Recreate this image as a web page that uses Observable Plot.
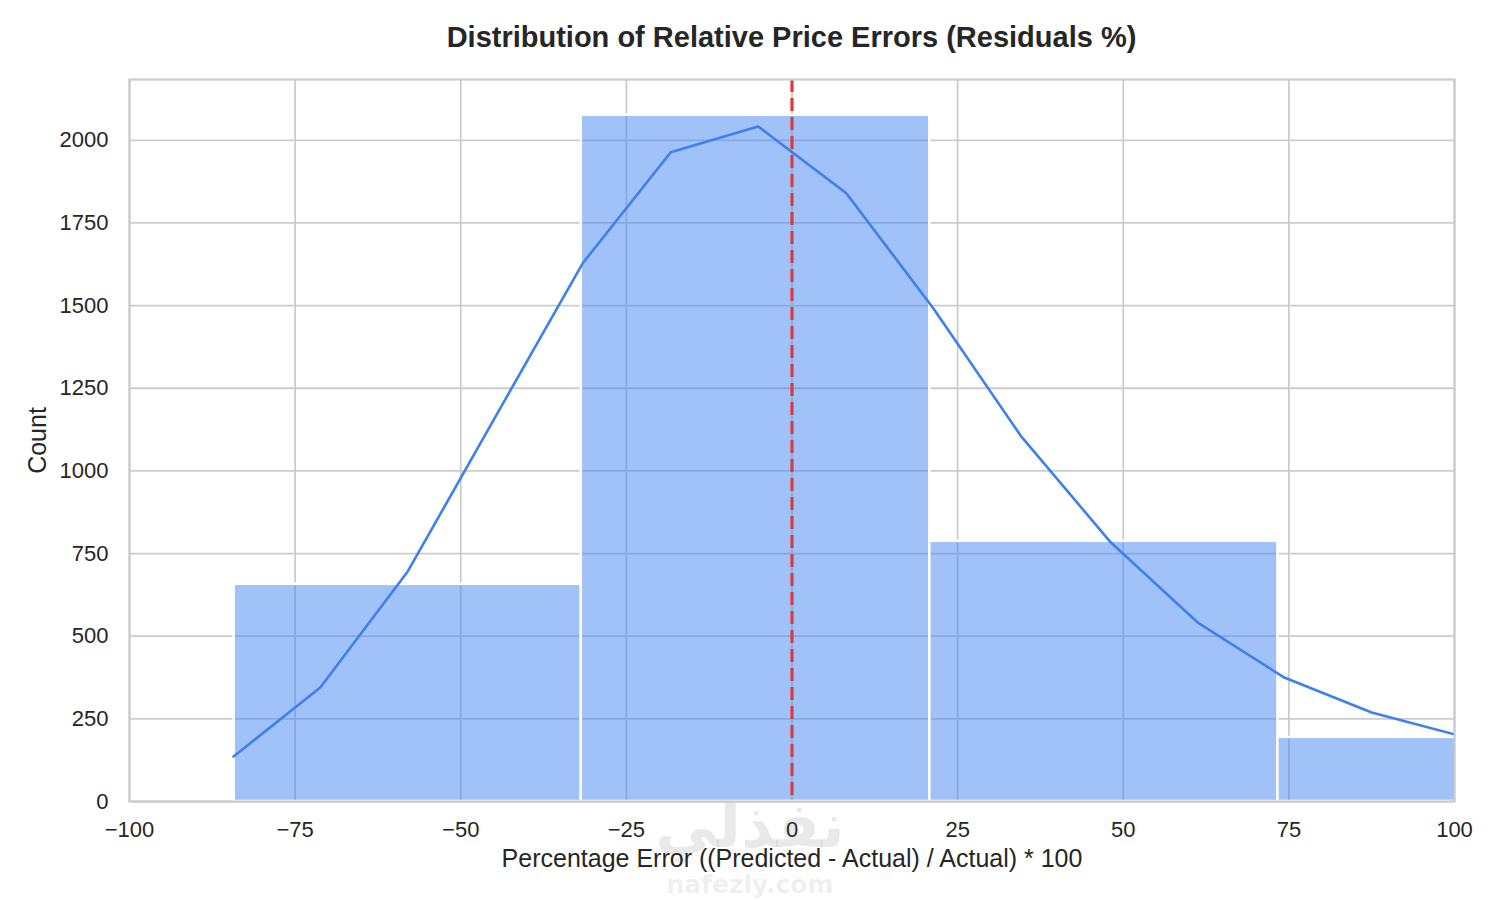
<!DOCTYPE html>
<html><head><meta charset="utf-8">
<script src="https://cdn.jsdelivr.net/npm/d3@7"></script>
<script src="https://cdn.jsdelivr.net/npm/@observablehq/plot@0.6"></script>
<style>
body{margin:0;background:#fff;font-family:"Liberation Sans",Arial,sans-serif;}
#wrap{position:relative;width:1500px;height:900px;overflow:hidden;background:#fff;}
#title{position:absolute;left:129px;width:1325px;top:22px;height:30px;line-height:30px;font-size:29px;font-weight:bold;text-align:center;color:#262626;}
#chart{position:absolute;left:0;top:60px;z-index:2;}
#wm1{position:absolute;left:600px;width:300px;top:794px;height:64px;line-height:64px;text-align:center;font-family:"DejaVu Sans",sans-serif;font-weight:bold;font-size:62px;color:rgba(0,0,0,0.085);z-index:1;}
#wm2{position:absolute;left:600px;width:300px;top:872px;height:26px;line-height:26px;text-align:center;font-family:"DejaVu Sans",sans-serif;font-weight:bold;font-size:25px;color:rgba(0,0,0,0.085);z-index:1;}
</style></head>
<body><div id="wrap"><div id="title">Distribution of Relative Price Errors (Residuals %)</div><div id="wm1">نفذلي</div><div id="wm2">nafezly.com</div><div id="chart"></div></div>
<script>
const binEdges = [-84.2, -31.8, 20.8, 73.35, 125.9];
const binCounts = [657, 2076, 787, 194];
const kdeX = [-84.3, -71.2, -58.0, -44.9, -31.6, -18.3, -5.1, 8.2, 21.4, 34.5, 48.1, 61.2, 74.3, 87.5, 100.0];
const kdeY = [136, 345, 696, 1159, 1628, 1964, 2042, 1840, 1490, 1107, 784, 542, 375, 269, 203];
const xTicks = [-100, -75, -50, -25, 0, 25, 50, 75, 100];
const yTicks = [0, 250, 500, 750, 1000, 1250, 1500, 1750, 2000];
const zeroLine = [0];
const titleText = "Distribution of Relative Price Errors (Residuals %)";
const xLabel = "Percentage Error ((Predicted - Actual) / Actual) * 100";
const yLabel = "Count";

const bins = binCounts.map((c, i) => ({x1: binEdges[i], x2: binEdges[i + 1], count: c}));
const kde = kdeX.map((x, i) => ({x, y: kdeY[i]}));
const fmt = d3.format("d");

const chart = Plot.plot({
  width: 1500,
  height: 840,
  marginLeft: 129,
  marginRight: 46,
  marginTop: 19,
  marginBottom: 99,
  style: {fontFamily: "'Liberation Sans', Arial, sans-serif", fontSize: "22px", color: "#262626", background: "transparent", overflow: "visible"},
  x: {domain: [-100, 100], ticks: xTicks, tickFormat: fmt},
  y: {domain: [0, 2184], ticks: yTicks, tickFormat: fmt},
  marks: [
    Plot.frame({fill: "white", stroke: "none"}),
    Plot.gridX(xTicks, {stroke: "#cccccc", strokeOpacity: 1, strokeWidth: 1.8}),
    Plot.gridY(yTicks, {stroke: "#cccccc", strokeOpacity: 1, strokeWidth: 1.8}),
    Plot.rectY(bins, {x1: "x1", x2: "x2", y1: 0, y2: "count", fill: "#4285F4", fillOpacity: 0.5, stroke: "white", strokeWidth: 2.5, clip: true}),
    Plot.line(kde, {x: "x", y: "y", stroke: "#3d80ee", strokeWidth: 2.6, clip: true}),
    Plot.ruleX(zeroLine, {stroke: "#dd3b3b", strokeWidth: 3.2, strokeDasharray: "13,6"}),
    Plot.frame({stroke: "#cccccc", strokeWidth: 2.2}),
    Plot.axisX(xTicks, {tickSize: 0, tickPadding: 20, tickFormat: fmt, label: null, fontSize: 22}),
    Plot.axisY(yTicks, {tickSize: 0, tickPadding: 21, tickFormat: fmt, label: null, fontSize: 22}),
    Plot.text([xLabel], {frameAnchor: "bottom", dy: 57, lineAnchor: "middle", textAnchor: "middle", fontSize: 25, fill: "#262626"}),
    Plot.text([yLabel], {frameAnchor: "left", dx: -92, rotate: -90, lineAnchor: "middle", textAnchor: "middle", fontSize: 25, fill: "#262626"})
  ]
});
document.getElementById("chart").appendChild(chart);
</script>
</body></html>
